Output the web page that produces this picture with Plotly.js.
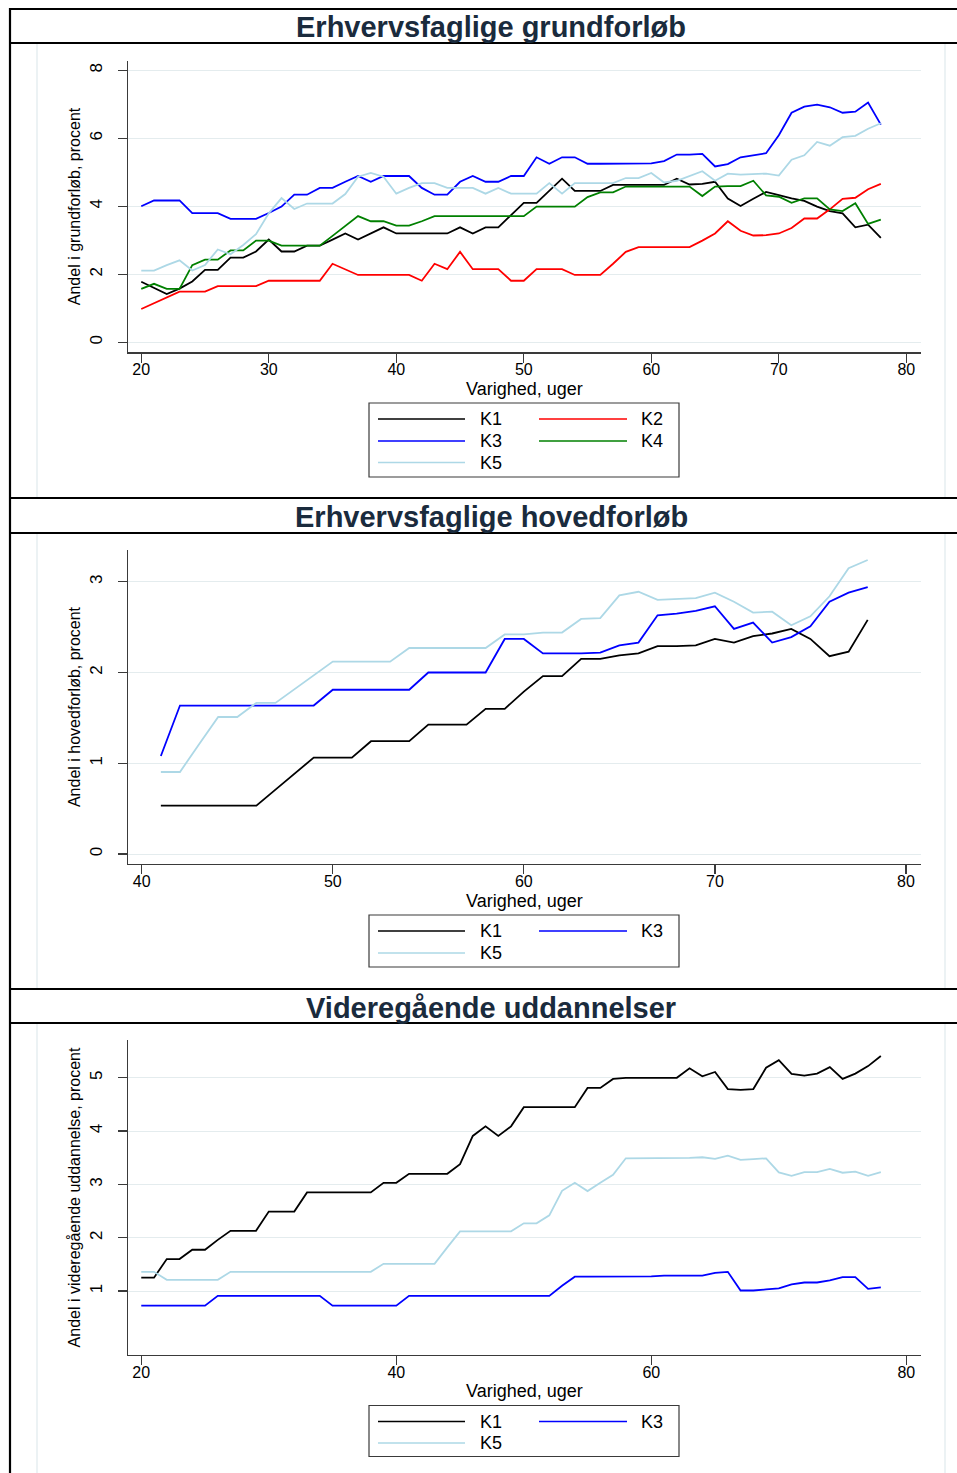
<!DOCTYPE html>
<html>
<head>
<meta charset="utf-8">
<script src="https://cdn.plot.ly/plotly-3.0.1.min.js"></script>
<style>html,body{margin:0;padding:0;background:#fff;}#chart{width:957px;height:1473px;}</style>
</head>
<body>
<div id="chart"></div>
<script>
// ---------------- DATA ----------------
var weeksA = [20,21,22,23,24,25,26,27,28,29,30,31,32,33,34,35,36,37,38,39,40,41,42,43,44,45,46,47,48,49,50,51,52,53,54,55,56,57,58,59,60,61,62,63,64,65,66,67,68,69,70,71,72,73,74,75,76,77,78];
var weeksB = [41,42,43,44,45,46,47,48,49,50,51,52,53,54,55,56,57,58,59,60,61,62,63,64,65,66,67,68,69,70,71,72,73,74,75,76,77,78];

// Panel 1: Erhvervsfaglige grundforløb
var g_K1 = [1.78,1.61,1.42,1.58,1.79,2.13,2.13,2.49,2.49,2.67,3.02,2.67,2.67,2.84,2.84,3.02,3.20,3.02,3.20,3.38,3.20,3.20,3.20,3.20,3.20,3.38,3.20,3.38,3.38,3.74,4.10,4.10,4.46,4.81,4.45,4.45,4.45,4.63,4.63,4.63,4.63,4.63,4.81,4.64,4.66,4.72,4.23,4.01,4.22,4.42,4.33,4.23,4.16,3.99,3.86,3.79,3.38,3.46,3.07];
var g_K2 = [0.98,1.15,1.32,1.49,1.49,1.49,1.65,1.65,1.65,1.65,1.81,1.81,1.81,1.81,1.81,2.31,2.15,1.98,1.98,1.98,1.98,1.98,1.81,2.31,2.15,2.66,2.15,2.15,2.15,1.81,1.81,2.15,2.15,2.15,1.98,1.98,1.98,2.31,2.66,2.80,2.80,2.80,2.80,2.80,2.99,3.20,3.56,3.28,3.14,3.15,3.20,3.36,3.64,3.64,3.91,4.22,4.25,4.50,4.66];
var g_K3 = [4.00,4.17,4.17,4.17,3.80,3.80,3.80,3.63,3.63,3.63,3.80,3.99,4.34,4.34,4.54,4.54,4.72,4.89,4.72,4.89,4.89,4.89,4.54,4.34,4.34,4.72,4.89,4.72,4.72,4.89,4.89,5.44,5.25,5.44,5.44,5.25,5.25,5.25,5.26,5.26,5.26,5.33,5.52,5.52,5.54,5.17,5.24,5.44,5.49,5.56,6.09,6.75,6.93,6.99,6.91,6.75,6.78,7.05,6.40];
var g_K4 = [1.57,1.72,1.57,1.57,2.27,2.43,2.43,2.70,2.70,2.99,2.99,2.84,2.84,2.84,2.84,3.13,3.42,3.71,3.56,3.56,3.43,3.43,3.56,3.71,3.71,3.71,3.71,3.71,3.71,3.71,3.71,3.99,3.99,3.99,3.99,4.27,4.41,4.41,4.58,4.58,4.58,4.58,4.58,4.58,4.30,4.58,4.59,4.59,4.75,4.32,4.28,4.10,4.23,4.23,3.91,3.86,4.09,3.48,3.61];
var g_K5 = [2.11,2.11,2.27,2.41,2.11,2.27,2.73,2.59,2.86,3.18,3.79,4.24,3.92,4.08,4.08,4.08,4.36,4.87,4.98,4.87,4.37,4.54,4.68,4.68,4.54,4.54,4.54,4.37,4.54,4.37,4.37,4.37,4.68,4.37,4.68,4.68,4.68,4.68,4.83,4.83,4.98,4.70,4.75,4.89,5.03,4.75,4.96,4.93,4.94,4.96,4.90,5.37,5.50,5.89,5.78,6.03,6.07,6.28,6.44];

// Panel 2: Erhvervsfaglige hovedforløb
var h_K1 = [0.533,0.533,0.533,0.533,0.533,0.533,0.71,0.886,1.062,1.062,1.062,1.243,1.243,1.243,1.426,1.426,1.426,1.60,1.60,1.79,1.96,1.96,2.15,2.15,2.19,2.21,2.29,2.29,2.30,2.37,2.33,2.40,2.43,2.48,2.37,2.18,2.23,2.58];
var h_K3 = [1.08,1.636,1.636,1.636,1.636,1.636,1.636,1.636,1.636,1.81,1.81,1.81,1.81,1.81,2.0,2.0,2.0,2.0,2.37,2.37,2.21,2.21,2.21,2.22,2.30,2.33,2.63,2.65,2.68,2.73,2.48,2.55,2.33,2.39,2.51,2.78,2.88,2.94];
var h_K5 = [0.904,0.904,1.21,1.51,1.51,1.665,1.665,1.82,1.97,2.12,2.12,2.12,2.12,2.27,2.27,2.27,2.27,2.27,2.42,2.42,2.44,2.44,2.59,2.60,2.85,2.89,2.80,2.81,2.82,2.88,2.78,2.66,2.67,2.52,2.62,2.84,3.15,3.24];

// Panel 3: Videregående uddannelser
var v_K1 = [1.25,1.25,1.60,1.60,1.775,1.775,1.96,2.13,2.13,2.13,2.49,2.49,2.49,2.85,2.85,2.85,2.85,2.85,2.85,3.03,3.03,3.20,3.20,3.20,3.20,3.38,3.91,4.09,3.91,4.09,4.45,4.45,4.45,4.45,4.45,4.81,4.81,4.98,5.00,5.00,5.00,5.00,5.00,5.18,5.03,5.11,4.79,4.775,4.79,5.19,5.33,5.075,5.04,5.08,5.20,4.98,5.08,5.22,5.41];
var v_K3 = [0.725,0.725,0.725,0.725,0.725,0.725,0.91,0.91,0.91,0.91,0.91,0.91,0.91,0.91,0.91,0.725,0.725,0.725,0.725,0.725,0.725,0.91,0.91,0.91,0.91,0.91,0.91,0.91,0.91,0.91,0.91,0.91,0.91,1.10,1.27,1.27,1.27,1.27,1.275,1.275,1.275,1.29,1.29,1.29,1.29,1.34,1.36,1.01,1.01,1.03,1.05,1.125,1.16,1.16,1.20,1.26,1.26,1.04,1.07];
var v_K5 = [1.36,1.36,1.21,1.21,1.21,1.21,1.21,1.36,1.36,1.36,1.36,1.36,1.36,1.36,1.36,1.36,1.36,1.36,1.36,1.51,1.51,1.51,1.51,1.51,1.82,2.12,2.12,2.12,2.12,2.12,2.27,2.27,2.42,2.88,3.03,2.875,3.03,3.18,3.49,3.49,3.49,3.50,3.50,3.50,3.51,3.48,3.54,3.46,3.475,3.49,3.225,3.16,3.23,3.23,3.29,3.22,3.24,3.16,3.23];

var panelTitles = ["Erhvervsfaglige grundforløb", "Erhvervsfaglige hovedforløb", "Videregående uddannelser"];
var yTitles = ["Andel i grundforløb, procent", "Andel i hovedforløb, procent", "Andel i videregående uddannelse, procent"];
var xTitle = "Varighed, uger";
var seriesNames = ["K1","K2","K3","K4","K5"];
var xTicks1 = [20,30,40,50,60,70,80];
var xTicks2 = [40,50,60,70,80];
var xTicks3 = [20,40,60,80];
var yTicks1 = [0,2,4,6,8];
var yTicks2 = [0,1,2,3];
var yTicks3 = [1,2,3,4,5];

// ---------------- STYLE ----------------
var colors = {K1:"#000000", K2:"#ff0000", K3:"#0000ff", K4:"#008000", K5:"#add8e6"};
var W = 957, H = 1473;
function px(x){ return x / W; }
function py(y){ return 1 - y / H; }
var FONT = "Liberation Sans, Arial, Helvetica, sans-serif";

function tr(x, y, name, xa, ya){
  return {x:x, y:y, name:name, type:"scatter", mode:"lines", xaxis:xa, yaxis:ya,
          line:{color:colors[name], width:1.8}, showlegend:false, hoverinfo:"x+y+name"};
}
var data = [
  tr(weeksA, g_K1, "K1", "x", "y"),
  tr(weeksA, g_K2, "K2", "x", "y"),
  tr(weeksA, g_K3, "K3", "x", "y"),
  tr(weeksA, g_K4, "K4", "x", "y"),
  tr(weeksA, g_K5, "K5", "x", "y"),
  tr(weeksB, h_K1, "K1", "x2", "y2"),
  tr(weeksB, h_K3, "K3", "x2", "y2"),
  tr(weeksB, h_K5, "K5", "x2", "y2"),
  tr(weeksA, v_K1, "K1", "x3", "y3"),
  tr(weeksA, v_K3, "K3", "x3", "y3"),
  tr(weeksA, v_K5, "K5", "x3", "y3")
];

var axisCommon = {showline:true, linecolor:"#3a3a3a", linewidth:1.3, ticks:"outside", ticklen:9,
                  tickwidth:1.3, tickcolor:"#3a3a3a", zeroline:false, fixedrange:true};
function xax(range, tickvals, anchor){
  return Object.assign({}, axisCommon, {
    domain:[px(128), px(921)], range:range, tickmode:"array", tickvals:tickvals,
    showgrid:false, anchor:anchor, ticklabelstandoff:-7,
    tickfont:{family:FONT, size:16, color:"#000"}
  });
}
function yax(range, tickvals, anchor, top, bottom, title){
  return Object.assign({}, axisCommon, {
    domain:[py(bottom), py(top)], range:range, tickmode:"array", tickvals:tickvals,
    showgrid:true, gridcolor:"#e4ecee", gridwidth:1, anchor:anchor, tickangle:-90,
    ticklabelstandoff:9,
    tickfont:{family:FONT, size:17, color:"#000"},
    title:{text:title, font:{family:FONT, size:16, color:"#000"}, standoff:2}
  });
}

var layout = {
  width:W, height:H, margin:{l:0,r:0,t:0,b:0}, paper_bgcolor:"#ffffff", plot_bgcolor:"#ffffff",
  showlegend:false, font:{family:FONT, color:"#000"},
  xaxis: xax([18.96, 81.15], xTicks1, "y"),
  yaxis: yax([-0.294, 8.28], yTicks1, "x", 60.7, 352.3, yTitles[0]),
  xaxis2: xax([39.28, 80.79], xTicks2, "y2"),
  yaxis2: yax([-0.11, 3.35], yTicks2, "x2", 550, 864, yTitles[1]),
  xaxis3: xax([18.96, 81.15], xTicks3, "y3"),
  yaxis3: yax([-0.2, 5.71], yTicks3, "x3", 1040, 1355, yTitles[2]),
  shapes:[], annotations:[]
};

// frame lines (Stata graph boxes)
function hline(y, x0, x1, color, w){ layout.shapes.push({type:"line", xref:"paper", yref:"paper", x0:px(x0), x1:px(x1), y0:py(y), y1:py(y), line:{color:color, width:w}}); }
function vline(x, y0, y1, color, w){ layout.shapes.push({type:"line", xref:"paper", yref:"paper", x0:px(x), x1:px(x), y0:py(y0), y1:py(y1), line:{color:color, width:w}}); }
vline(37, 44, 497, "#e6eef0", 1.5); vline(945, 44, 497, "#e6eef0", 1.5);
vline(37, 534, 988, "#e6eef0", 1.5); vline(945, 534, 988, "#e6eef0", 1.5);
vline(37, 1024, 1473, "#e6eef0", 1.5); vline(945, 1024, 1473, "#e6eef0", 1.5);
[9, 43, 498, 533, 989, 1023].forEach(function(y){ hline(y, 10, 957, "#000", 2.2); });
vline(10, 8, 1473, "#000", 2.2);

// panel titles
var titleY = [27, 517, 1008];
titleY.forEach(function(y, i){
  layout.annotations.push({xref:"paper", yref:"paper", x:px(491), y:py(y), xanchor:"center", yanchor:"middle",
    text:panelTitles[i], showarrow:false, font:{family:FONT, size:29, weight:"bold", color:"#1a2b3d"}});
});

// x-axis titles
[389, 901, 1391].forEach(function(y){
  layout.annotations.push({xref:"paper", yref:"paper", x:px(524), y:py(y), xanchor:"center", yanchor:"middle",
    text:xTitle, showarrow:false, font:{family:FONT, size:18, color:"#000"}});
});

// legends (drawn like Stata's two-column legend)
function legend(boxTop, boxBot, rows, items){
  layout.shapes.push({type:"rect", xref:"paper", yref:"paper", x0:px(369), x1:px(679), y0:py(boxBot), y1:py(boxTop),
    line:{color:"#3a3a3a", width:1.2}, fillcolor:"rgba(0,0,0,0)"});
  items.forEach(function(name, i){
    var col = i % 2, row = Math.floor(i / 2);
    var y = rows[row];
    var lx0 = col === 0 ? 378 : 539, lx1 = col === 0 ? 465 : 627, tx = col === 0 ? 478 : 639;
    layout.shapes.push({type:"line", xref:"paper", yref:"paper", x0:px(lx0), x1:px(lx1), y0:py(y), y1:py(y),
      line:{color:colors[name], width:1.6}});
    layout.annotations.push({xref:"paper", yref:"paper", x:px(tx), y:py(y), xanchor:"left", yanchor:"middle",
      text:name, showarrow:false, font:{family:FONT, size:18, color:"#000"}});
  });
}
legend(403, 477, [419, 441, 462.5], ["K1","K2","K3","K4","K5"]);
legend(915, 967, [931, 953], ["K1","K3","K5"]);
legend(1405.5, 1456.5, [1421.5, 1443], ["K1","K3","K5"]);

Plotly.newPlot("chart", data, layout, {displayModeBar:false, staticPlot:true});
</script>
</body>
</html>
